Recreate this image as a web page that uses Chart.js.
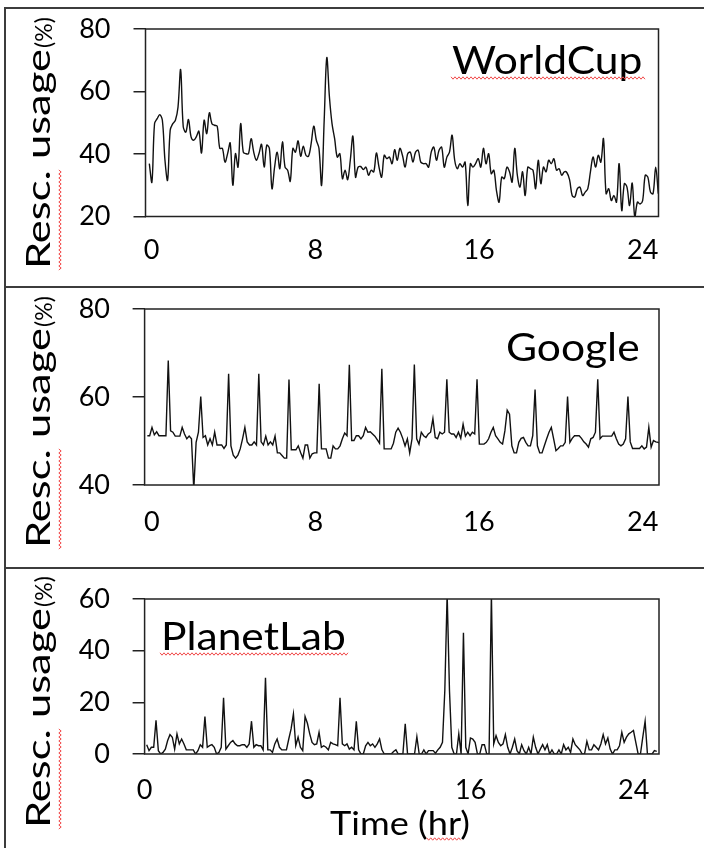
<!DOCTYPE html>
<html><head><meta charset="utf-8">
<script src="https://cdn.jsdelivr.net/npm/chart.js@4.4.1/dist/chart.umd.min.js"></script>
<style>
html,body{margin:0;padding:0;background:#fff;overflow:hidden}
#wrap{position:relative;width:704px;height:848px;overflow:hidden}
canvas{position:absolute;left:0}
.b{position:absolute;background:#3c3c3c}
</style></head><body>
<div id="wrap">
<canvas id="c1" width="704" height="287" style="top:0px"></canvas>
<canvas id="c2" width="704" height="281" style="top:287px"></canvas>
<canvas id="c3" width="704" height="280" style="top:568px"></canvas>
<div class="b" style="left:4px;top:7px;width:700px;height:2px"></div>
<div class="b" style="left:4px;top:286px;width:700px;height:2px"></div>
<div class="b" style="left:4px;top:567px;width:700px;height:2px"></div>
<div class="b" style="left:4px;top:7px;width:2px;height:841px"></div>
</div>
<script>
// ---- data ----
const X_TICKS = [0, 8, 16, 24];
const X_TICK_LABELS = ['0', '8', '16', '24'];
const WORLDCUP_Y_TICKS = [20, 40, 60, 80];
const GOOGLE_Y_TICKS = [40, 60, 80];
const PLANETLAB_Y_TICKS = [0, 20, 40, 60];
const PANEL_NAMES = ['WorldCup', 'Google', 'PlanetLab'];
const Y_TITLE = 'Resc. usage';
const Y_UNIT = '(%)';
const X_TITLE = 'Time (hr)';

// time (hours) of first and last sample of each trace (regular sampling)
const WORLDCUP_SPAN = [-0.117, 24.76];
const GOOGLE_SPAN = [-0.215, 24.87];
const PLANETLAB_SPAN = [0.103, 25.13];

const WORLDCUP = [
 36.9,31,49.7,51.3,52.6,50.8,38,31.6,47.6,49.7,50.8,55,67,48.7,47,51,45.5,44.4,45.5,47.3,
 40.3,50.8,46.5,53.2,49.7,49.2,48.9,41.8,41.8,37.4,40.1,43.5,30,40.1,35.8,49.7,40.6,40.1,40.1,44.9,
 40.6,38,40.1,43.1,35.8,42.8,41.8,28.9,35.8,40.6,35.3,43.9,35.8,34.8,31.3,41.8,40.6,44.2,39.3,42.5,
 39.6,39.3,43.3,48.9,44.4,41.8,30,50.8,70.8,58.3,49.7,44.9,39,40.1,32.1,34.8,31.8,38,45.7,32.6,
 35.8,36,35,35.8,33.2,34.8,34.3,40.3,35.8,32.6,39.6,38.5,39,36.9,41.4,38,41.8,39.5,
 35.8,40.1,40.6,37.4,40.6,41.2,37.4,36.9,36.9,35.8,40.6,42.2,38,41.2,42.2,35.8,39,40.6,46,38,
 35.3,36.9,35.8,37.4,23.5,36.9,35.8,36.9,38.5,35.8,41.8,36.9,40.1,33.7,34.8,28.3,24.6,32.6,32.1,35.8,
 34.3,31,41.8,33.2,29.4,34.3,26.7,35.8,35.3,34.8,28.9,38,30.5,35.8,34.3,38,36.9,38.5,34.8,35.3,
 33.2,34.3,34,31.8,26.7,26.2,28.9,29.4,26.7,27.8,28.9,34.3,39,35.8,39.6,37.4,44.9,27.3,28.9,
 25.1,26.7,24.6,36.9,21.9,30.5,29.4,23.5,30.7,19.8,24.6,24,25.1,33.2,32.6,27.8,27.3,35.8,27.3
];
const GOOGLE = [
 51.2,51.2,53.1,51.4,52.1,51.2,51.2,51.2,51.2,68.3,52.3,52,51.1,51.1,51.1,53.1,51.6,50.5,51.1,50.5,
 39,49.7,52,60.1,50.8,51.2,49.1,50.5,49.1,52,49.1,49.1,49.1,48.3,49.1,65.3,48.9,46.8,46.1,46.8,
 48.2,50.5,53.1,49.8,49.1,49.1,49.8,49.1,65.3,49.8,49.1,51.1,49.1,49.8,49.1,51.1,47.3,47.3,46.7,46.1,
 46.1,64,48,48,48,48.9,47.4,46.1,49.1,49.1,46.1,47.1,47.3,47.3,63,48.2,48.2,48.2,46.1,46.1,48.9,
 48.2,48.2,48.9,50.5,51.8,51.2,67.3,50.1,50.1,51.2,51.2,50.5,51.2,53.1,52,52.1,51.6,51.1,50.3,49.5,
 66.4,48.2,48.2,48.2,48.2,49.5,52,52.9,
 52,50.6,48.9,50.5,47.3,50.5,67.4,50.5,49.3,52,51.2,50.8,51.6,52,55.1,50.8,50.5,52,51.6,52,
 64,52,51.6,51.6,50.8,52,50.6,53.8,51.1,52,51.2,52,51.6,64,49.3,49.3,49.3,49.7,50.5,52,
 53.1,51.2,50.5,49.7,49.3,52.3,57,56.1,48.9,47.3,47.3,49.7,50.6,50.8,49.7,48.9,48.9,51.2,61.7,48.9,
 47.3,47.3,48.9,50.5,52,53.1,50.5,47.8,48.3,48.9,48.9,49.7,60.1,49.7,50.6,51.2,51.2,51.2,50.6,49.8,
 49.3,48.6,50.5,50.8,52,64,50.5,51.1,51.1,51.1,51.1,51.1,52,50.5,49.3,48.9,49.3,50.5,60.1,49.8,
 48.3,48.3,48.3,48.3,48.9,48.2,48.6,53.1,48.6,50.1,49.8,49.7,49.5
];
const PLANETLAB = [
 3.6,1.3,2.6,2.6,13,1.3,0,0.6,1.9,5.2,7.5,6.5,1.9,7.8,3.9,5.8,3.9,1.6,1.6,1.6,
 1.6,0,1.3,3.6,2.6,14.5,2.6,3.2,3.6,2.6,0,0.6,2.6,21.8,1.9,3.2,4.5,5.2,3.9,3.2,
 3.2,3.6,3.6,2.6,3.9,12.7,2.6,3.6,3.2,3.2,1.6,29.5,1.6,1.6,0.6,3.9,5.8,2.6,1.6,1.6,1.6,
 5.8,9.7,15.5,3.2,6.5,2.6,1.3,14.5,11.9,7.8,4.5,3.6,3.9,8.4,2.6,3.2,2.6,1.6,4.5,3.9,
 3.6,3.2,21.8,3.9,3.2,3.9,1.9,2.6,1.6,12.7,1.6,0,0,3.2,4.5,3.2,3.9,2.6,3.9,5.8,
 1.6,0,0,0,
 0,1,1.6,0,0,0,11.7,0,0,0,0,6.7,0,0,1.6,0,1.3,1.3,1.3,0.3,1.6,
 2.6,4.5,24.6,62,24.6,2.6,0,0,7.8,0,46.9,2.6,0,6.2,5.8,4.5,0,0,3.6,3.6,
 0,0,62,3.9,7.1,4.5,3.2,3.9,7.5,2.6,0,2.6,5.8,1.3,0,3.6,1.3,0,2.6,0,
 6.5,2.6,0,1.9,3.6,1.6,3.6,0,1.6,0,0,1.6,0,3.6,1.6,2.6,0.6,5.8,
 3.6,2.6,1.6,0,0,4.9,1.6,1.6,3.6,2.6,1.6,3.9,7.5,3.9,6.2,1.9,0,1.6,
 1.6,3.2,8.4,4.5,6.5,7.8,8.4,9.1,4.5,0,0,6.5,12.7,0,0,0,1.3,1
];

// ---- helpers ----
function toPoints(values, span) {
  const n = values.length, step = (span[1] - span[0]) / (n - 1);
  return values.map((v, i) => ({ x: span[0] + i * step, y: v }));
}

function squiggle(ctx, x0, y0, x1, y1) {
  const len = Math.hypot(x1 - x0, y1 - y0), ux = (x1 - x0) / len, uy = (y1 - y0) / len;
  const nx = -uy, ny = ux, step = 2;
  ctx.beginPath();
  for (let s = 0, k = 0; s <= len; s += step, k++) {
    const off = (k % 2 ? 1.2 : -1.2);
    const px = x0 + ux * s + nx * off, py = y0 + uy * s + ny * off;
    k === 0 ? ctx.moveTo(px, py) : ctx.lineTo(px, py);
  }
  ctx.strokeStyle = '#f04848'; ctx.lineWidth = 1; ctx.stroke();
}

function stretchedText(ctx, text, x, y, sx, align) {
  const w = ctx.measureText(text).width * sx;
  const x0 = align === 'center' ? x - w / 2 : x;
  ctx.save(); ctx.translate(x0, y); ctx.scale(sx, 1);
  ctx.textAlign = 'left'; ctx.fillText(text, 0, 0);
  ctx.restore();
  return w;
}

const decor = {
  id: 'decor',
  afterDraw(chart, args, o) {
    const { ctx, chartArea: a } = chart;
    ctx.save();
    ctx.strokeStyle = '#222'; ctx.lineWidth = 1.5;
    ctx.strokeRect(a.left, a.top, a.right - a.left, a.bottom - a.top);
    ctx.fillStyle = '#000';
    ctx.textBaseline = 'alphabetic';
    ctx.font = '38px Lato';
    const nw = stretchedText(ctx, o.name, o.nameX, o.nameY, 1.12, 'left');
    if (o.nameSq) squiggle(ctx, o.nameX - 1, o.nameY + 4, o.nameX + nw + 3, o.nameY + 4);
    if (o.xTitle) {
      ctx.font = '32px Lato';
      const tw = stretchedText(ctx, o.xTitle, o.xtX, o.xtY, 1.13, 'center');
      const pre = ctx.measureText('Time (').width * 1.13;
      const hr = ctx.measureText('hr').width * 1.13;
      const x0 = o.xtX - tw / 2 + pre;
      squiggle(ctx, x0 - 1, o.xtY + 4, x0 + hr + 1, o.xtY + 4);
    }
    ctx.save();
    ctx.translate(o.ytX, o.ytY); ctx.rotate(-Math.PI / 2);
    ctx.font = '33px Lato';
    const w = stretchedText(ctx, Y_TITLE, 0, 0, 1.32, 'left');
    const wr = ctx.measureText('Resc.').width * 1.32;
    ctx.font = '23px Lato';
    ctx.fillText(Y_UNIT, w + 1, 2);
    squiggle(ctx, -1, 10, wr + 2, 10);
    ctx.restore();
    ctx.restore();
  }
};

function makeChart(id, values, span, yTicks, area, xr, deco, tension) {
  const cv = document.getElementById(id);
  const W = cv.width, H = cv.height;
  return new Chart(cv, {
    type: 'line',
    data: { datasets: [{ data: toPoints(values, span), borderColor: '#111', borderWidth: 1.4,
      pointRadius: 0, tension: tension, fill: false }] },
    options: {
      responsive: false, animation: false, devicePixelRatio: 1,
      layout: { padding: { left: 0, top: area.top, right: W - area.right, bottom: 0 } },
      plugins: { legend: { display: false }, tooltip: { enabled: false }, decor: deco },
      scales: {
        x: {
          type: 'linear', min: xr[0], max: xr[1],
          afterBuildTicks: s => { s.ticks = X_TICKS.map(v => ({ value: v })); },
          afterFit: s => { s.height = H - area.bottom; s.paddingLeft = 0; s.paddingRight = 0; },
          grid: { display: false, drawTicks: false },
          border: { display: false },
          ticks: { padding: area.xPad, color: '#000', font: { family: 'Lato', size: 27 },
            maxRotation: 0, autoSkip: false,
            callback: v => X_TICK_LABELS[X_TICKS.indexOf(v)] }
        },
        y: {
          type: 'linear', min: yTicks[0], max: yTicks[yTicks.length - 1],
          afterBuildTicks: s => { s.ticks = yTicks.map(v => ({ value: v })); },
          afterFit: s => { s.width = area.left; s.paddingTop = 0; s.paddingBottom = 0; },
          grid: { display: true, drawOnChartArea: false, drawTicks: true, tickLength: 12,
            color: '#222', lineWidth: 1.5 },
          border: { display: false },
          ticks: { padding: area.left - 12 - area.labelRight, color: '#000',
            font: { family: 'Lato', size: 27 }, autoSkip: false, callback: v => String(v) }
        }
      }
    },
    plugins: [decor]
  });
}

makeChart('c1', WORLDCUP, WORLDCUP_SPAN, WORLDCUP_Y_TICKS,
  { left: 145.5, right: 658.5, top: 29, bottom: 216.5, labelRight: 110.5, xPad: 18 },
  [-0.303, 24.77],
  { name: PANEL_NAMES[0], nameX: 452, nameY: 74, nameSq: true, ytX: 50, ytY: 269 }, 0.35);
makeChart('c2', GOOGLE, GOOGLE_SPAN, GOOGLE_Y_TICKS,
  { left: 144.6, right: 659, top: 22, bottom: 198, labelRight: 110, xPad: 21 },
  [-0.35, 24.8],
  { name: PANEL_NAMES[1], nameX: 506, nameY: 74, nameSq: false, ytX: 50, ytY: 261 }, 0);
makeChart('c3', PLANETLAB, PLANETLAB_SPAN, PLANETLAB_Y_TICKS,
  { left: 144.6, right: 659, top: 31, bottom: 186, labelRight: 110, xPad: 20 },
  [0, 25.24],
  { name: PANEL_NAMES[2], nameX: 161, nameY: 82, nameSq: true, ytX: 50, ytY: 260,
    xTitle: X_TITLE, xtX: 400, xtY: 267 }, 0);
</script>
</body></html>
